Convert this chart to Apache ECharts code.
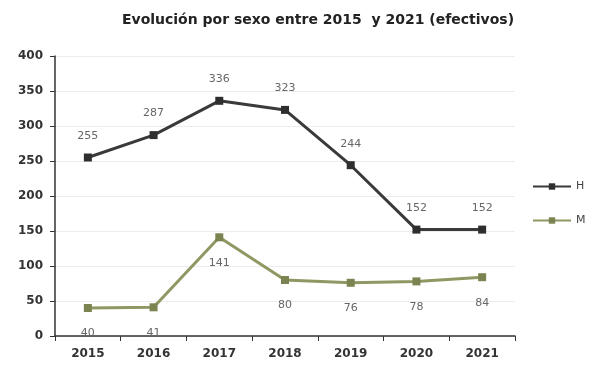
<!DOCTYPE html>
<html><head><meta charset="utf-8">
<script src="https://cdn.jsdelivr.net/npm/echarts@6/dist/echarts.min.js"></script>
<style>html,body{margin:0;padding:0;background:#fff}#c{width:595px;height:376px}</style>
</head><body><div id="c"></div>
<script>
var categories = ['2015','2016','2017','2018','2019','2020','2021'];
var hombres = [255, 287, 336, 323, 244, 152, 152];
var mujeres = [40, 41, 141, 80, 76, 78, 84];
var yTicks = [0, 50, 100, 150, 200, 250, 300, 350, 400];

var chart = echarts.init(document.getElementById('c'), null, {renderer: 'canvas'});
chart.setOption({
  animation: false,
  backgroundColor: '#ffffff',
  title: {
    text: 'Evolución por sexo entre 2015  y 2021 (efectivos)',
    left: 313, top: 8, textAlign: 'center',
    textStyle: {fontFamily: 'DejaVu Sans', fontSize: 14, fontWeight: 'bold', color: '#222'}
  },
  legend: {
    orient: 'vertical', left: 527, top: 176, itemGap: 23,
    itemWidth: 38, itemHeight: 8,
    textStyle: {fontFamily: 'DejaVu Sans', fontSize: 11, color: '#444'},
    data: ['H', 'M']
  },
  grid: {left: 55, right: 80, top: 56, bottom: 40},
  xAxis: {
    type: 'category', data: categories, boundaryGap: true,
    axisLine: {lineStyle: {color: '#333', width: 1.5}},
    axisTick: {show: true, length: 5, lineStyle: {color: '#333'}},
    axisLabel: {fontFamily: 'DejaVu Sans', fontSize: 12, fontWeight: 'bold', color: '#333', margin: 12}
  },
  yAxis: {
    type: 'value', min: yTicks[0], max: yTicks[yTicks.length - 1], interval: 50,
    axisLine: {show: true, lineStyle: {color: '#333', width: 1.5}},
    axisTick: {show: true, length: 5, lineStyle: {color: '#333'}},
    axisLabel: {fontFamily: 'DejaVu Sans', fontSize: 12, fontWeight: 'bold', color: '#333', margin: 12},
    splitLine: {show: true, lineStyle: {color: '#ececec', width: 1}}
  },
  series: [
    {
      name: 'H', type: 'line', data: hombres,
      symbol: 'rect', symbolSize: 8,
      lineStyle: {color: '#3a3a3a', width: 3},
      itemStyle: {color: '#2e2e2e'},
      label: {show: true, position: 'top', distance: 12, color: '#666',
        fontFamily: 'DejaVu Sans', fontSize: 11}
    },
    {
      name: 'M', type: 'line', data: mujeres,
      symbol: 'rect', symbolSize: 8,
      lineStyle: {color: '#8e9862', width: 3},
      itemStyle: {color: '#7b8350'},
      label: {show: true, position: 'bottom', distance: 16, color: '#666',
        fontFamily: 'DejaVu Sans', fontSize: 11}
    }
  ]
});
</script></body></html>
